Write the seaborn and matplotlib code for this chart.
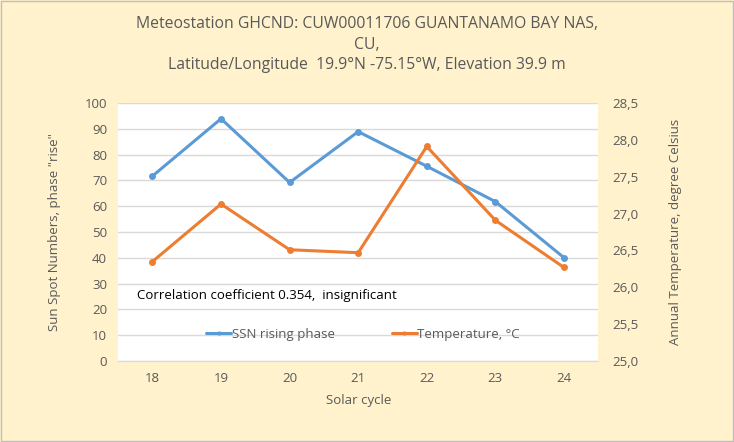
import pandas as pd
import matplotlib.pyplot as plt
import seaborn as sns
from matplotlib.patches import Rectangle

# Data
cycles = [18, 19, 20, 21, 22, 23, 24]
ssn_rise = [71.7, 93.9, 69.2, 88.9, 75.5, 61.8, 40.1]
temperature = [26.35, 27.13, 26.51, 26.47, 27.91, 26.91, 26.27]

left_ticks = list(range(0, 101, 10))
right_ticks = [25.0, 25.5, 26.0, 26.5, 27.0, 27.5, 28.0, 28.5]

df = pd.DataFrame({'cycle': cycles, 'ssn': ssn_rise, 'temp': temperature})

sns.set_style('white')
plt.rcParams['font.family'] = ['Open Sans', 'DejaVu Sans']

bg = '#FFF2CC'
txt = '#595959'
blue = '#5B9BD5'
orange = '#ED7D31'

fig = plt.figure(figsize=(7.34, 4.42), dpi=100, facecolor=bg)
ax = fig.add_axes([0.161, 0.183, 0.654, 0.584])
ax.set_facecolor('white')

sns.lineplot(data=df, x='cycle', y='ssn', color=blue, linewidth=2.2,
             marker='o', markersize=5, markeredgewidth=0,
             label='SSN rising phase', legend=False, ax=ax)

ax2 = ax.twinx()
sns.lineplot(data=df, x='cycle', y='temp', color=orange, linewidth=2.2,
             marker='o', markersize=5, markeredgewidth=0,
             label='Temperature, °C', legend=False, ax=ax2)

ax.set_xlim(17.5, 24.5)
ax.set_ylim(0, 100)
ax2.set_ylim(25.0, 28.5)
ax.set_xticks(cycles)
ax.set_xticklabels([str(c) for c in cycles])
ax.set_yticks(left_ticks)
ax2.set_yticks(right_ticks)
ax2.set_yticklabels([f'{v:.1f}'.replace('.', ',') for v in right_ticks])

ax.grid(axis='y', color='#D9D9D9', linewidth=1)
ax.set_axisbelow(True)
for a in (ax, ax2):
    for s in a.spines.values():
        s.set_visible(False)
ax.spines['bottom'].set_visible(True)
ax.spines['bottom'].set_color('#D9D9D9')

ax.tick_params(axis='both', length=0, labelsize=9.5, labelcolor=txt, pad=8)
ax2.tick_params(axis='y', length=0, labelsize=9.5, labelcolor=txt, pad=10)

ax.set_xlabel('Solar cycle', fontsize=9.5, color=txt, labelpad=6)
ax.set_ylabel('Sun Spot Numbers, phase "rise"', fontsize=9.5, color=txt, labelpad=17)
ax2.set_ylabel('Annual Temperature, degree Celsius', fontsize=9.5, color=txt, labelpad=22)

fig.suptitle('Meteostation GHCND: CUW00011706 GUANTANAMO BAY NAS,\nCU,\n'
             'Latitude/Longitude  19.9°N -75.15°W, Elevation 39.9 m',
             fontsize=11.3, color=txt, y=0.963, linespacing=1.38)

ax.text(0.04, 0.255, 'Correlation coefficient 0.354,  insignificant',
        transform=ax.transAxes, fontsize=9.5, color='black', va='center')

h1, l1 = ax.get_legend_handles_labels()
h2, l2 = ax2.get_legend_handles_labels()
ax2.legend(h1 + h2, l1 + l2, loc='center', bbox_to_anchor=(0.51, 0.105),
           ncol=2, frameon=False, fontsize=9.5, labelcolor=txt,
           handlelength=1.9, handletextpad=0.05, columnspacing=4.3, markerscale=0.6)

fig.patches.append(Rectangle((0.001, 0.002), 0.997, 0.996, transform=fig.transFigure,
                             fill=False, edgecolor='#BFBFBF', linewidth=1))

fig.savefig('out.png', dpi=100, facecolor=bg)
